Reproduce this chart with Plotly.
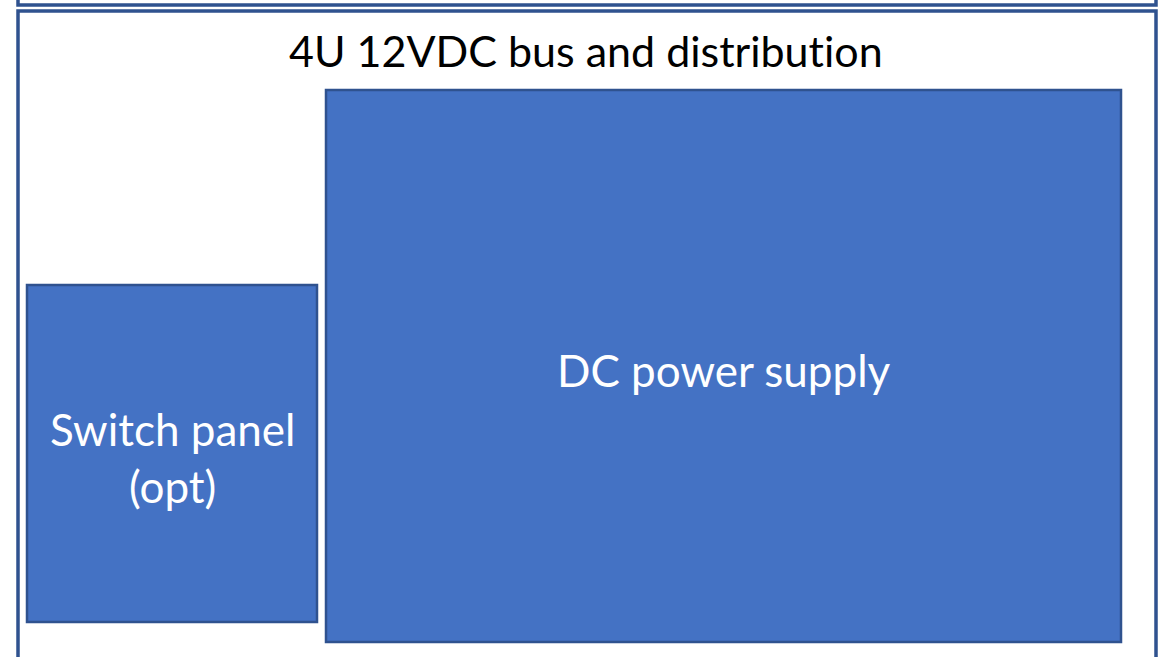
import plotly.graph_objects as go

# Layout blocks (pixel-space canvas, y grows downward)
block_names = ["Switch panel<br>(opt)", "DC power supply"]
block_x0 = [27, 326]
block_x1 = [317, 1121]
block_y0 = [285, 90]
block_y1 = [622, 642]
label_x = [172, 724]
label_y = [457, 370]

frame_x0 = [18, 18]
frame_x1 = [1156, 1156]
frame_y0 = [-30, 11]
frame_y1 = [5, 700]

# \u200c keeps the font from fusing "ti" into a ligature
title_text = "4U 12VDC bus and distribut\u200cion"
title_x = 586
title_y = 50

W, H = 1164, 657
FILL = "#4472C4"
EDGE = "#2F528F"
FONT = "Lato, Open Sans, sans-serif"

fig = go.Figure()
fig.add_trace(go.Scatter(x=[0, W], y=[0, H], mode="markers",
                         marker=dict(opacity=0), hoverinfo="skip", showlegend=False))

for x0, x1, y0, y1 in zip(frame_x0, frame_x1, frame_y0, frame_y1):
    fig.add_shape(type="rect", xref="x", yref="y", x0=x0, x1=x1, y0=y0, y1=y1,
                  line=dict(color=EDGE, width=3.5), fillcolor="rgba(0,0,0,0)")

for name, x0, x1, y0, y1, lx, ly in zip(block_names, block_x0, block_x1,
                                        block_y0, block_y1, label_x, label_y):
    fig.add_shape(type="rect", xref="x", yref="y", x0=x0, x1=x1, y0=y0, y1=y1,
                  line=dict(color=EDGE, width=2.5), fillcolor=FILL)
    fig.add_annotation(x=lx, y=ly, xref="x", yref="y", text=name, showarrow=False,
                       font=dict(family=FONT, size=44, color="white"),
                       align="center")

fig.add_annotation(x=title_x, y=title_y, xref="x", yref="y", text=title_text,
                   showarrow=False, font=dict(family=FONT, size=43, color="black"))

fig.update_xaxes(range=[0, W], visible=False, fixedrange=True)
fig.update_yaxes(range=[H, 0], visible=False, fixedrange=True)
fig.update_layout(width=W, height=H, margin=dict(l=0, r=0, t=0, b=0),
                  paper_bgcolor="white", plot_bgcolor="white", showlegend=False)

fig.write_html("out.html", config={"displayModeBar": False},
               post_script="document.body.style.margin='0';document.body.style.overflow='hidden';")
